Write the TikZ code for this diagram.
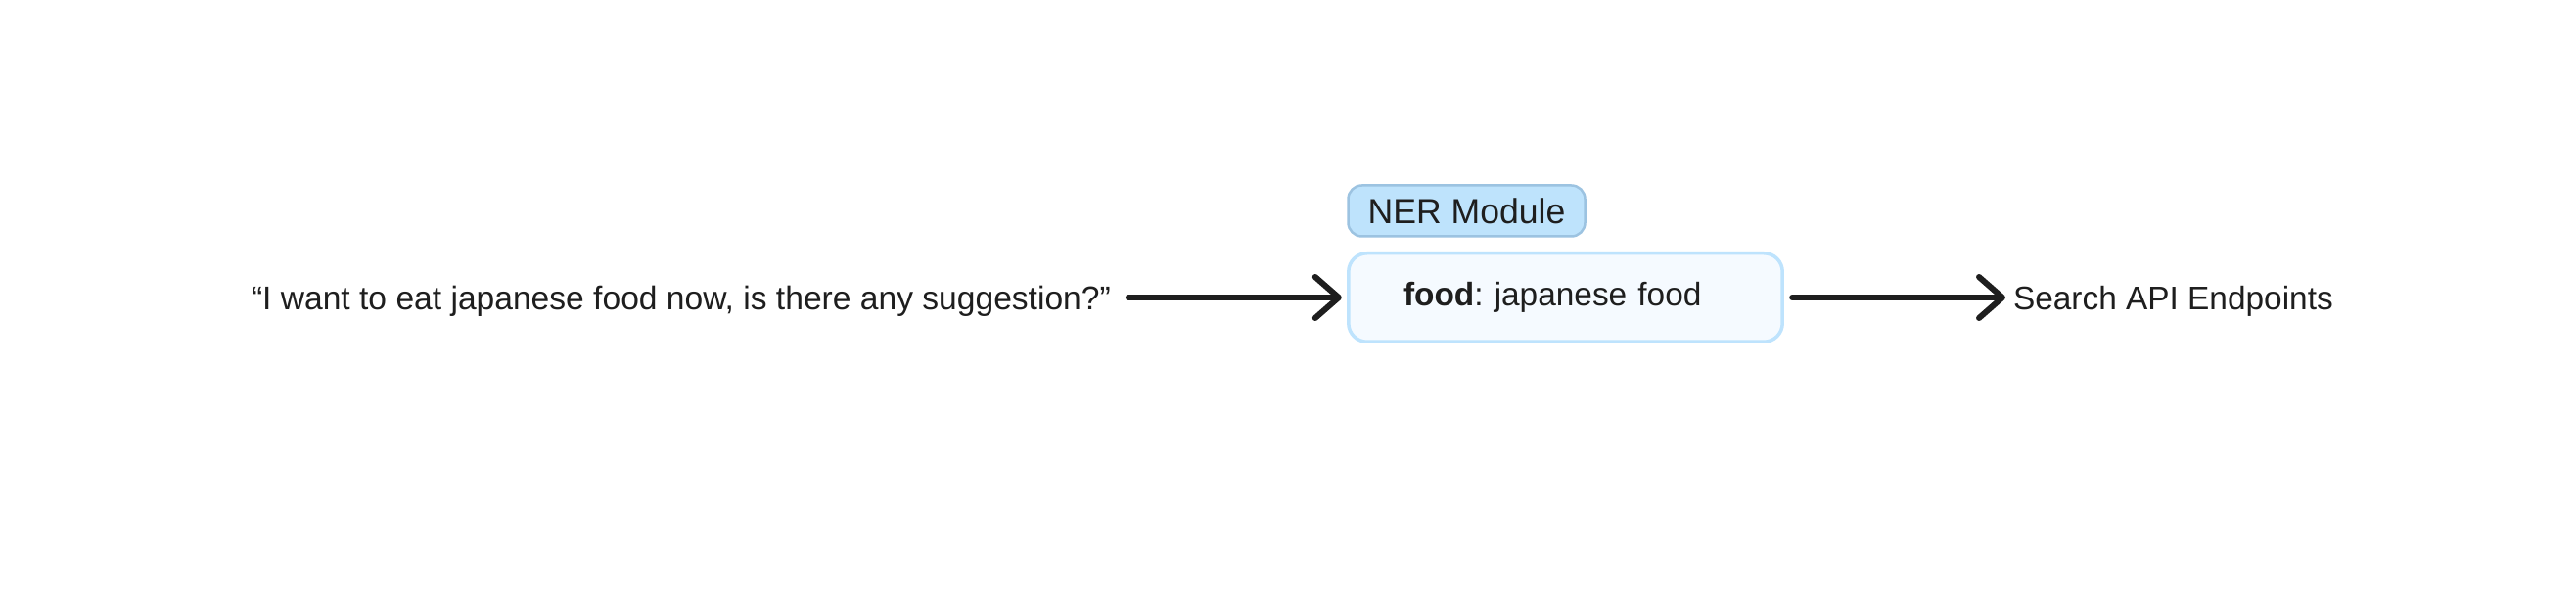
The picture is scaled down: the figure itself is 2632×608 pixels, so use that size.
\documentclass[tikz,border=0pt]{standalone}
\usepackage{fontspec}
\setmainfont{Liberation Sans}
\usetikzlibrary{arrows.meta}
\frenchspacing
\definecolor{txt}{HTML}{1E1E1E}
\definecolor{nerfill}{HTML}{BEE3FC}
\definecolor{nerdraw}{HTML}{9CC3E1}
\definecolor{boxfill}{HTML}{F5FAFF}
\definecolor{boxdraw}{HTML}{BEE3FD}
\tikzset{
  plain/.style={inner sep=0pt, outer sep=0pt, text=txt, font=\fontsize{16.7}{20}\selectfont},
  nerbox/.style={draw=nerdraw, fill=nerfill, line width=1.25pt, rounded corners=7pt,
    minimum width=121pt, minimum height=26pt, inner sep=0pt, outer sep=0pt,
    text=txt, font=\fontsize{17.8}{21}\selectfont},
  mainbox/.style={draw=boxdraw, fill=boxfill, line width=1.75pt, rounded corners=9.5pt,
    minimum height=45.25pt, text width=165.5pt, inner xsep=28.1pt, inner ysep=0pt,
    outer sep=0pt, align=left, text=txt, font=\fontsize{16.7}{20}\selectfont},
  arr/.style={draw=txt, line width=3pt, line cap=round,
    -{Straight Barb[length=12pt, width=21pt, line width=3pt, round]}}
}
\begin{document}
\begin{tikzpicture}[x=0.5pt, y=-0.5pt]
  \useasboundingbox (0,0) rectangle (2632,608);
  \fill[white] (0,0) rectangle (2632,608);
  \node[plain, anchor=base west] (in) at (257,317) {\fontsize{16.8}{20}\selectfont “I want to eat japanese food now, is there any suggestion?”};
  \node[mainbox] (box) at (1599.5,304) {\frenchspacing\textbf{food}: japanese food};
  \node[nerbox] (ner) at (1498.5,215.5) {NER Module};
  \node[plain, anchor=base west] (out) at (2057,317) {Search API Endpoints};
  \draw[arr] ([xshift=9pt]in.east |- box.west) -- ([xshift=-3.5pt]box.west);
  \draw[arr] ([xshift=5pt]box.east) -- ([xshift=-4pt]out.west |- box.east);
\end{tikzpicture}
\end{document}
